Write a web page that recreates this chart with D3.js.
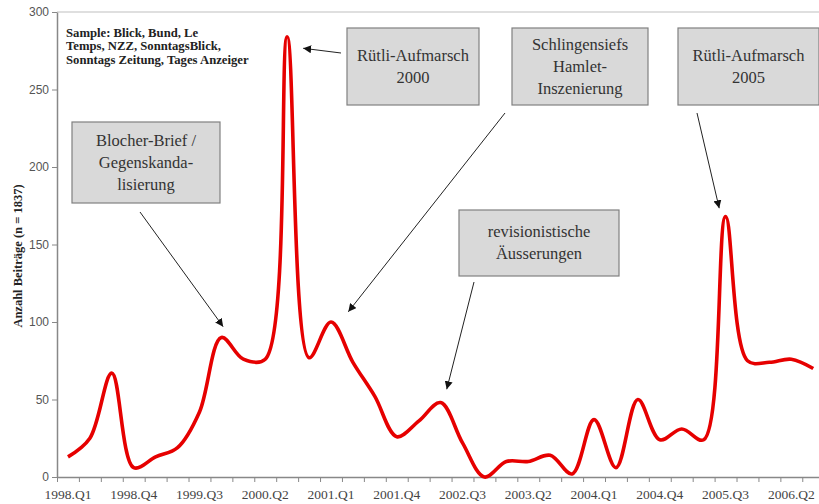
<!DOCTYPE html>
<html>
<head>
<meta charset="utf-8">
<script src="https://cdn.jsdelivr.net/npm/d3@7"></script>
<style>
  body { margin: 0; background: #fff; }
</style>
</head>
<body>
<script>
// quarters 1998.Q1 .. 2006.Q3
var quarters = ["1998.Q1","1998.Q2","1998.Q3","1998.Q4",
                "1999.Q1","1999.Q2","1999.Q3","1999.Q4",
                "2000.Q1","2000.Q2","2000.Q3","2000.Q4",
                "2001.Q1","2001.Q2","2001.Q3","2001.Q4",
                "2002.Q1","2002.Q2","2002.Q3","2002.Q4",
                "2003.Q1","2003.Q2","2003.Q3","2003.Q4",
                "2004.Q1","2004.Q2","2004.Q3","2004.Q4",
                "2005.Q1","2005.Q2","2005.Q3","2005.Q4",
                "2006.Q1","2006.Q2","2006.Q3"];

var beitraege = [13, 25, 67, 6, 13, 19, 42, 90, 76, 76, 284, 77,
                 100, 74, 52, 26, 36, 48, 22, 0, 10, 10, 14, 2,
                 37, 6, 50, 24, 31, 24, 168, 75, 74, 76, 70];

var tickLabels = ["1998.Q1","1998.Q4","1999.Q3","2000.Q2","2001.Q1","2001.Q4",
                  "2002.Q3","2003.Q2","2004.Q1","2004.Q4","2005.Q3","2006.Q2"];

var yTicks = [0, 50, 100, 150, 200, 250, 300];

// annotation texts and arrow tips (quarter index, value)
var noteTexts = [["Blocher-Brief /", "Gegenskanda-", "lisierung"],
                 ["Rütli-Aufmarsch", "2000"],
                 ["Schlingensiefs", "Hamlet-", "Inszenierung"],
                 ["revisionistische", "Äusserungen"],
                 ["Rütli-Aufmarsch", "2005"]];
var noteTips = [[7.08, 97], [10.73, 276.6], [12.79, 106.6], [17.28, 56.6], [29.71, 173.4]];

function init() {
    var w = 819, h = 504;
    var left = 57, top = 12, bottom = 477;
    var step = 21.92;

    var svg = d3.select("body").append("svg")
        .attr("width", w)
        .attr("height", h);

    var x = d3.scaleLinear()
        .domain([0, quarters.length])
        .range([left, left + quarters.length * step]);

    var y = d3.scaleLinear()
        .domain([0, 300])
        .range([bottom, top]);

    // top border
    svg.append("line")
        .attr("x1", left).attr("x2", w)
        .attr("y1", y(300)).attr("y2", y(300))
        .attr("stroke", "#d4d4d4")
        .attr("stroke-width", 1.5);

    // y axis
    var yAxis = svg.append("g")
        .attr("transform", "translate(" + left + ",0)")
        .call(d3.axisLeft(y).tickValues(yTicks).tickSize(5).tickSizeOuter(0).tickPadding(3));
    yAxis.select(".domain").attr("stroke", "#888").attr("stroke-width", 1.5);
    yAxis.selectAll(".tick line").attr("stroke", "#888");
    yAxis.selectAll(".tick text")
        .attr("fill", "#555")
        .style("font-family", "'Liberation Sans', Arial, sans-serif")
        .style("font-size", "12px");

    // x axis: ticks on the quarter boundaries
    var xAxis = svg.append("g")
        .attr("transform", "translate(0," + bottom + ")")
        .call(d3.axisBottom(x).tickValues(d3.range(0, quarters.length + 1)).tickSize(5).tickSizeOuter(0).tickFormat(""));
    xAxis.select(".domain").attr("stroke", "#888").attr("stroke-width", 1.5);
    xAxis.selectAll(".tick line").attr("stroke", "#888");

    svg.selectAll("text.xlab")
        .data(tickLabels)
        .enter()
        .append("text")
        .attr("class", "xlab")
        .attr("x", function(d){ return x(quarters.indexOf(d) + 0.5); })
        .attr("y", bottom + 22)
        .attr("text-anchor", "middle")
        .attr("fill", "#444")
        .style("font-family", "'Liberation Serif', serif")
        .style("font-size", "13.5px")
        .text(function(d){ return d; });

    // y title
    svg.append("text")
        .attr("transform", "translate(22,256) rotate(-90)")
        .attr("text-anchor", "middle")
        .attr("fill", "#222")
        .style("font-family", "'Liberation Serif', serif")
        .style("font-weight", "bold")
        .style("font-size", "12.5px")
        .text("Anzahl Beiträge (n = 1837)");

    // sample note
    var sample = ["Sample: Blick, Bund, Le", "Temps, NZZ, SonntagsBlick,", "Sonntags Zeitung, Tages Anzeiger"];
    svg.selectAll("text.sample")
        .data(sample)
        .enter()
        .append("text")
        .attr("class", "sample")
        .attr("x", 66)
        .attr("y", function(d, i){ return 36.5 + i * 13.7; })
        .attr("fill", "#222")
        .style("font-family", "'Liberation Serif', serif")
        .style("font-weight", "bold")
        .style("font-size", "12.7px")
        .text(function(d){ return d; });

    // line
    var line = d3.line()
        .x(function(d, i){ return x(i + 0.5); })
        .y(function(d){ return y(d); })
        .curve(d3.curveCatmullRom.alpha(0.5));

    svg.append("path")
        .datum(beitraege)
        .attr("d", line)
        .attr("fill", "none")
        .attr("stroke", "#e60000")
        .attr("stroke-width", 3.6)
        .attr("stroke-linejoin", "round");

    // arrows
    svg.append("defs").append("marker")
        .attr("id", "head")
        .attr("viewBox", "0 0 10 10")
        .attr("refX", 10).attr("refY", 5)
        .attr("markerWidth", 8).attr("markerHeight", 8)
        .attr("markerUnits", "userSpaceOnUse")
        .attr("orient", "auto")
        .append("path")
        .attr("d", "M0,0L10,5L0,10z")
        .attr("fill", "#111");

    var boxes = [[72, 122, 148, 81], [347, 28, 132, 77], [512, 28, 136, 77],
                 [459, 210, 160, 66], [678, 28, 141, 77]];
    var starts = [[140, 212], [341, 53], [505, 113], [474, 282], [697, 113]];

    svg.selectAll("line.arrow")
        .data(noteTips)
        .enter()
        .append("line")
        .attr("class", "arrow")
        .attr("x1", function(d, i){ return starts[i][0]; })
        .attr("y1", function(d, i){ return starts[i][1]; })
        .attr("x2", function(d){ return x(d[0] + 0.5); })
        .attr("y2", function(d){ return y(d[1]); })
        .attr("stroke", "#222")
        .attr("stroke-width", 1)
        .attr("marker-end", "url(#head)");

    var notes = svg.selectAll("g.note")
        .data(noteTexts)
        .enter()
        .append("g")
        .attr("class", "note");

    notes.append("rect")
        .attr("x", function(d, i){ return boxes[i][0]; })
        .attr("y", function(d, i){ return boxes[i][1]; })
        .attr("width", function(d, i){ return boxes[i][2]; })
        .attr("height", function(d, i){ return boxes[i][3]; })
        .attr("fill", "#d9d9d9")
        .attr("stroke", "#808080")
        .attr("stroke-width", 1.2);

    notes.each(function(d, i){
        var b = boxes[i];
        var lh = 22;
        var y0 = b[1] + b[3] / 2 - (d.length - 1) * lh / 2 + 5;
        d3.select(this).selectAll("text")
            .data(d)
            .enter()
            .append("text")
            .attr("x", b[0] + b[2] / 2)
            .attr("y", function(t, j){ return y0 + j * lh; })
            .attr("text-anchor", "middle")
            .attr("fill", "#333")
            .style("font-family", "'Liberation Serif', serif")
            .style("font-size", "16.5px")
            .text(function(t){ return t; });
    });
}

window.onload = init;
</script>
</body>
</html>
